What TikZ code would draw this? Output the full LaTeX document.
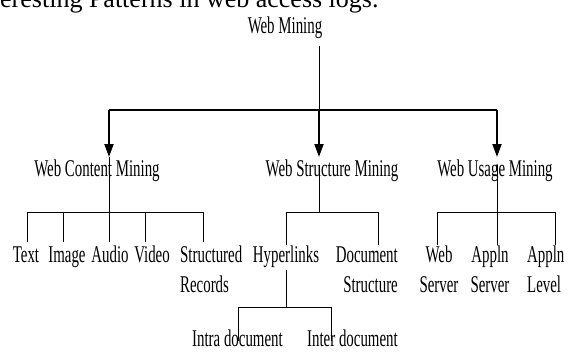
\documentclass[tikz,border=0pt]{standalone}
\usepackage{fontspec}
\setmainfont{Liberation Serif}
\newfontfamily\narrowfont[FakeStretch=0.62]{Liberation Serif}
\usetikzlibrary{arrows.meta}
\tikzset{
  lbl/.style={font=\narrowfont\fontsize{24}{30}\selectfont, inner sep=0pt, anchor=base, align=center},
  thin line/.style={line width=0.8pt},
  trunk/.style={line width=1.9pt},
  down arrow/.style={trunk, -{Triangle[length=13pt,width=9pt]}}
}
\begin{document}
\begin{tikzpicture}[x=1pt,y=-1pt]
\useasboundingbox (0,0) rectangle (569,351);
\node[font=\fontsize{26}{30}\selectfont, inner sep=0pt, anchor=base west] (intro) at (0,7) {eresting Patterns in web access logs.};
% labels
\node[lbl] (wm) at (285,33) {Web Mining};
\node[lbl] (wcm) at (97,176) {Web Content Mining};
\node[lbl] (wsm) at (332,176) {Web Structure Mining};
\node[lbl] (wum) at (495,176) {Web Usage Mining};
\node[lbl] (text) at (26,262) {Text};
\node[lbl] (image) at (67,262) {Image};
\node[lbl] (audio) at (110,262) {Audio};
\node[lbl] (video) at (152,262) {Video};
\node[lbl, anchor=base west, align=left] (records) at (180,292) {Structured\\Records};
\node[lbl] (links) at (286,262) {Hyperlinks};
\node[lbl, anchor=base east, align=right] (docstruct) at (398,292) {Document\\Structure};
\node[lbl] (webserver) at (439,292) {Web\\Server};
\node[lbl] (appserver) at (490,292) {Appln\\Server};
\node[lbl, anchor=base west, align=left] (applevel) at (527,292) {Appln\\Level};
\node[lbl, anchor=base west] (intra) at (192,346) {Intra document};
\node[lbl, anchor=base west] (inter) at (307,346) {Inter document};
% junctions
\coordinate (wm-stem) at (319,46);
\coordinate (hub) at (319,110);
\coordinate (wcm-in) at (109,110);
\coordinate (wum-in) at (497,110);
\coordinate (wcm-tip) at (109,157);
\coordinate (wsm-tip) at (319,157);
\coordinate (wum-tip) at (497,157);
% top level
\draw[thin line] (wm-stem) -- (hub);
\draw[trunk] (wcm-in) -- (wum-in);
\foreach \c in {wcm,wsm,wum}{\draw[down arrow] (\c-tip |- hub) -- (\c-tip);}
% second level
\draw[thin line] (wcm-tip) -- (109,212);
\draw[thin line] (319,165) -- (319,212);
\draw[thin line] (497,165) -- (497,212);
\draw[thin line] (27,212) -- (203,212);
\draw[thin line] (286,212) -- (378,212);
\draw[thin line] (437,212) -- (555,212);
\foreach \x in {27,63,109,145,203}{\draw[thin line] (\x,212) -- (\x,242);}
\foreach \x in {286,378,437,497,555}{\draw[thin line] (\x,212) -- (\x,245);}
% hyperlinks
\draw[thin line] (286,270) -- (286,307);
\draw[thin line] (238,307) -- (331,307);
\foreach \x in {238,331}{\draw[thin line] (\x,307) -- (\x,341);}
\end{tikzpicture}
\end{document}
